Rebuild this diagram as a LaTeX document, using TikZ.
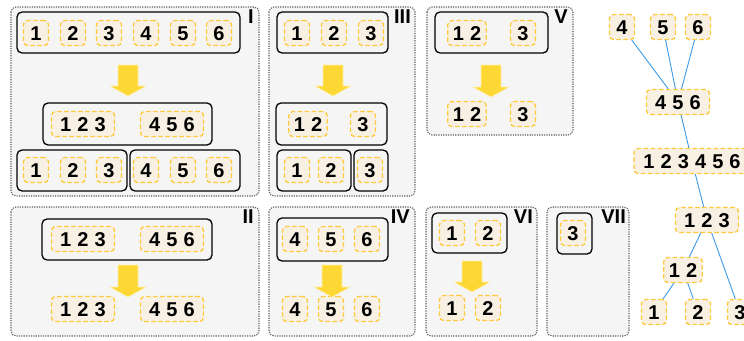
\documentclass[tikz,border=0pt]{standalone}
\usepackage{fontspec}
\setmainfont{Liberation Sans}
\usetikzlibrary{calc}
\definecolor{panelGray}{HTML}{F5F5F5}
\definecolor{dotGray}{HTML}{5F5F5F}
\definecolor{cellYellow}{HTML}{FFC93C}
\definecolor{cellCream}{HTML}{F8F1E3}
\definecolor{arrowYellow}{HTML}{FDD835}
\definecolor{arrowEdge}{HTML}{FFF0A8}
\definecolor{edgeBlue}{HTML}{3A9AE8}
\newcommand{\cellFont}{\fontsize{20}{22}\selectfont\bfseries\spaceskip=6.1pt\relax}
\newcommand{\tagFont}{\fontsize{20}{22}\selectfont\bfseries}
\newcommand{\splitArrow}[3]{\filldraw[arrowYellow,draw=arrowEdge,line width=0.6pt] (#1-10,#2) -- (#1+10,#2) -- (#1+10,#3-10) -- (#1+18,#3-10) -- (#1,#3) -- (#1-18,#3-10) -- (#1-10,#3-10) -- cycle;}
\tikzset{
  panel/.style={fill=panelGray,draw=dotGray,line width=1.1pt,dash pattern=on 1.2pt off 1.2pt,rounded corners=5pt},
  group/.style={draw=black,line width=1.3pt,rounded corners=5pt},
  cell/.style={draw=cellYellow,fill=cellCream,dash pattern=on 4.5pt off 2.5pt,line width=1.3pt,rounded corners=4pt,font=\cellFont,text height=14pt,text depth=0pt,inner xsep=5pt,inner ysep=5.5pt,minimum width=25pt},
  wide/.style={minimum width=63pt},
  tag/.style={font=\tagFont,anchor=north east,inner sep=0pt},
  link/.style={draw=edgeBlue,line width=0.9pt}
}
\begin{document}
\begin{tikzpicture}[x=1pt,y=-1pt]
\useasboundingbox (0,0) rectangle (744,340);

\draw[panel] (11,7) rectangle (259,196);
\node[tag] (tagI) at (254,10) {I};
\draw[group] (17,12) rectangle (240,53);
\draw[group] (43,103) rectangle (212,145);
\draw[group] (17,150) rectangle (127,191);
\draw[group] (130,150) rectangle (240,191);
\foreach \n/\x in {1/36,2/73,3/109,4/146,5/183,6/219}{
  \node[cell] (pIa\n) at (\x,33) {\n};
  \node[cell] (pIc\n) at (\x,170) {\n};
}
\node[cell,wide] (pIb1) at (83,124) {1 2 3};
\node[cell,wide] (pIb2) at (172,124) {4 5 6};
\splitArrow{128}{65}{96}

\draw[panel] (269,7) rectangle (415,196);
\node[tag] (tagIII) at (411,10) {III};
\draw[group] (277,12) rectangle (388,53);
\draw[group] (276,103) rectangle (387,145);
\draw[group] (277,150) rectangle (351,191);
\draw[group] (354,150) rectangle (388,191);
\foreach \n/\x in {1/297,2/334,3/371} \node[cell] (pIIIa\n) at (\x,33) {\n};
\foreach \n/\x in {1/297,2/331,3/370} \node[cell] (pIIIc\n) at (\x,170) {\n};
\node[cell] (pIIIb1) at (308,124) {1 2};
\node[cell] (pIIIb2) at (363,124) {3};
\splitArrow{333}{65}{96}

\draw[panel] (427,7) rectangle (573,135);
\node[tag] (tagV) at (568,10) {V};
\draw[group] (435,12) rectangle (548,53);
\node[cell] (pVa1) at (467,33) {1 2};
\node[cell] (pVa2) at (523,33) {3};
\splitArrow{491}{65}{97}
\node[cell] (pVb1) at (467,114) {1 2};
\node[cell] (pVb2) at (523,114) {3};

\draw[panel] (11,207) rectangle (259,336);
\node[tag] (tagII) at (254,210) {II};
\draw[group] (42,219) rectangle (212,260);
\node[cell,wide] (pIIa1) at (83,239) {1 2 3};
\node[cell,wide] (pIIa2) at (172,239) {4 5 6};
\splitArrow{128}{265}{297}
\node[cell,wide] (pIIb1) at (83,309) {1 2 3};
\node[cell,wide] (pIIb2) at (172,309) {4 5 6};

\draw[panel] (269,207) rectangle (415,336);
\node[tag] (tagIV) at (410,210) {IV};
\draw[group] (277,218) rectangle (388,261);
\foreach \n/\x in {4/295,5/331,6/367}{
  \node[cell] (pIVa\n) at (\x,239) {\n};
  \node[cell] (pIVb\n) at (\x,309) {\n};
}
\splitArrow{332}{265}{297}

\draw[panel] (426,207) rectangle (537,336);
\node[tag] (tagVI) at (533,210) {VI};
\draw[group] (432,213) rectangle (507,253);
\foreach \n/\x in {1/452,2/488}{
  \node[cell] (pVIa\n) at (\x,233) {\n};
  \node[cell] (pVIb\n) at (\x,308) {\n};
}
\splitArrow{472}{261}{292}

\draw[panel] (547,207) rectangle (629,336);
\node[tag] (tagVII) at (626,210) {VII};
\draw[group] (557,213) rectangle (592,254);
\node[cell] (pVIIa3) at (573,233) {3};

\node[cell] (t4) at (622,27) {4};
\node[cell] (t5) at (663,27) {5};
\node[cell] (t6) at (698,27) {6};
\node[cell,wide] (t456) at (678,102) {4 5 6};
\node[cell,minimum width=116pt] (t123456) at (692,161) {1 2 3 4 5 6};
\node[cell,wide] (t123) at (707,220) {1 2 3};
\node[cell] (t12) at (683,270) {1 2};
\node[cell] (t1) at (654,312) {1};
\node[cell] (t2) at (698,312) {2};
\node[cell] (t3) at (740,312) {3};
\foreach \a/\b in {t4/t456,t5/t456,t6/t456,t456/t123456,t123456/t123,t123/t12,t123/t3,t12/t1,t12/t2}
  \draw[link] (\a) -- (\b);
\end{tikzpicture}
\end{document}
